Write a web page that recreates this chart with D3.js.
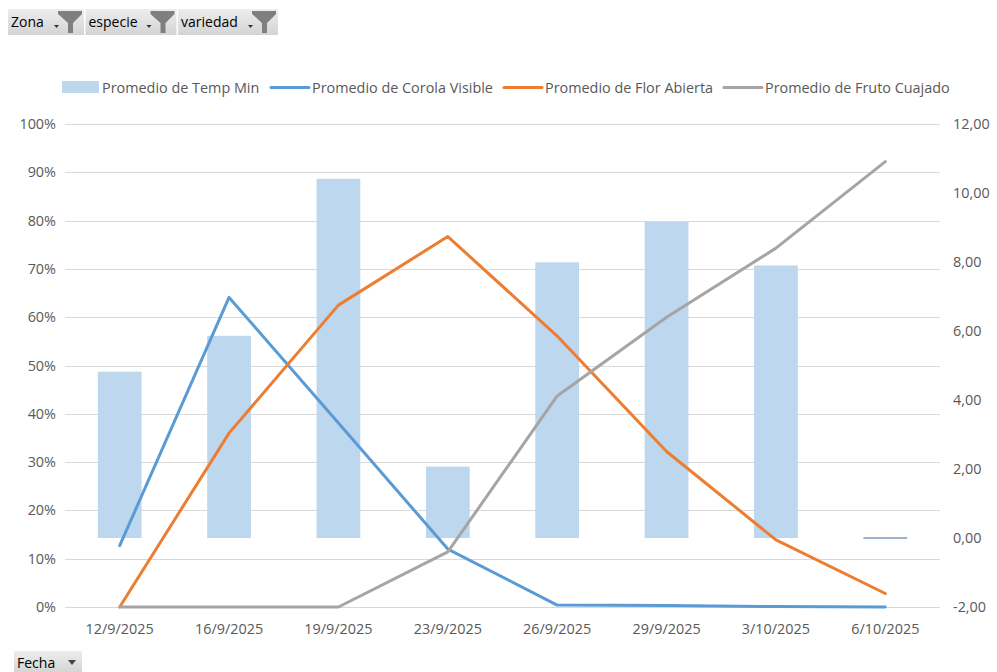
<!DOCTYPE html>
<html>
<head>
<meta charset="utf-8">
<script src="https://cdn.jsdelivr.net/npm/d3@7/dist/d3.min.js"></script>
<style>
  html, body { margin: 0; padding: 0; background: #fff; }
  svg { display: block; }
  text { font-family: "Open Sans", "Liberation Sans", Arial, sans-serif; }
</style>
</head>
<body>
<svg id="chart" width="997" height="672"></svg>
<script>
// Fechas del eje de categorías
const fechas = ["12/9/2025", "16/9/2025", "19/9/2025", "23/9/2025", "26/9/2025", "29/9/2025", "3/10/2025", "6/10/2025"];

// Promedio de Temp Min (eje secundario, °C)
const tempMin = [4.82, 5.86, 10.41, 2.07, 7.99, 9.17, 7.90, 0];

// Promedios de fenología (eje principal, fracción)
const corolaVisible = [0.127, 0.641, 0.381, 0.120, 0.004, 0.003, 0.001, 0.0];
const florAbierta   = [0.0, 0.360, 0.625, 0.767, 0.561, 0.322, 0.139, 0.028];
const frutoCuajado  = [0.0, 0.0, 0.0, 0.114, 0.437, 0.600, 0.743, 0.922];

// Etiquetas de ejes
const ticksIzq = [0, 0.1, 0.2, 0.3, 0.4, 0.5, 0.6, 0.7, 0.8, 0.9, 1.0];
const ticksDer = [-2, 0, 2, 4, 6, 8, 10, 12];

// Filtros del informe dinámico
const filtros = ["Zona", "especie", "variedad"];
const campoEje = "Fecha";

const series = [
  { name: "Promedio de Corola Visible", values: corolaVisible, color: "#5B9BD5" },
  { name: "Promedio de Flor Abierta",   values: florAbierta,   color: "#ED7D31" },
  { name: "Promedio de Fruto Cuajado",  values: frutoCuajado,  color: "#A5A5A5" }
];

const svg = d3.select("#chart");
const plot = { left: 65, right: 940, top: 124, bottom: 607 };
const textColor = "#595959";
const fs = 14.4;

const x = d3.scaleBand().domain(fechas).range([plot.left, plot.right]).paddingInner(0).paddingOuter(0);
const yL = d3.scaleLinear().domain([0, 1]).range([plot.bottom, plot.top]);
const yR = d3.scaleLinear().domain([-2, 12]).range([plot.bottom, plot.top]);
const cx = d => x(d) + x.bandwidth() / 2;
const barW = x.bandwidth() / 2.5;

// Líneas de cuadrícula del eje principal
svg.append("g").selectAll("line")
  .data(ticksIzq)
  .join("line")
  .attr("x1", plot.left).attr("x2", plot.right)
  .attr("y1", d => Math.round(yL(d)) + 0.5).attr("y2", d => Math.round(yL(d)) + 0.5)
  .attr("stroke", "#D9D9D9").attr("stroke-width", 1);

// Columnas de temperatura mínima
const barData = fechas.map((f, i) => ({ f, v: tempMin[i] }));
svg.append("g").selectAll("rect")
  .data(barData.filter(d => Math.abs(d.v) > 0.05))
  .join("rect")
  .attr("x", d => cx(d.f) - barW / 2)
  .attr("width", barW)
  .attr("y", d => Math.min(yR(d.v), yR(0)))
  .attr("height", d => Math.abs(yR(d.v) - yR(0)))
  .attr("fill", "#BDD7EE");
// Columnas con valor nulo: solo se ve el borde
svg.append("g").selectAll("line")
  .data(barData.filter(d => Math.abs(d.v) <= 0.05))
  .join("line")
  .attr("x1", d => cx(d.f) - barW / 2).attr("x2", d => cx(d.f) + barW / 2)
  .attr("y1", d => yR(d.v)).attr("y2", d => yR(d.v))
  .attr("stroke", "#7F98B6").attr("stroke-width", 1.5);

// Eje horizontal
svg.append("line")
  .attr("x1", plot.left).attr("x2", plot.right)
  .attr("y1", plot.bottom + 0.5).attr("y2", plot.bottom + 0.5)
  .attr("stroke", "#D9D9D9");

// Series de líneas
const line = d3.line().x((d, i) => cx(fechas[i])).y(d => yL(d));
svg.append("g").selectAll("path")
  .data(series)
  .join("path")
  .attr("d", s => line(s.values))
  .attr("fill", "none")
  .attr("stroke", s => s.color)
  .attr("stroke-width", 3)
  .attr("stroke-linejoin", "round")
  .attr("stroke-linecap", "round");

// Etiquetas eje izquierdo
const fmtPct = d3.format(".0%");
svg.append("g").selectAll("text")
  .data(ticksIzq)
  .join("text")
  .attr("x", 56).attr("y", d => yL(d))
  .attr("dy", "0.35em")
  .attr("text-anchor", "end")
  .attr("font-size", fs)
  .attr("fill", textColor)
  .text(d => fmtPct(d));

// Etiquetas eje derecho (formato es-ES)
const fmtNum = d => d3.format(".2f")(d).replace(".", ",").replace("−", "-");
svg.append("g").selectAll("text")
  .data(ticksDer)
  .join("text")
  .attr("x", 953).attr("y", d => yR(d))
  .attr("dy", "0.35em")
  .attr("text-anchor", "start")
  .attr("font-size", fs)
  .attr("fill", textColor)
  .text(d => fmtNum(d));

// Etiquetas de categoría
svg.append("g").selectAll("text")
  .data(fechas)
  .join("text")
  .attr("x", d => cx(d)).attr("y", 634)
  .attr("text-anchor", "middle")
  .attr("font-size", fs)
  .attr("fill", textColor)
  .text(d => d);

// Leyenda
const legend = [
  { name: "Promedio de Temp Min", type: "bar", color: "#BDD7EE", x: 62 },
  { name: series[0].name, type: "line", color: series[0].color, x: 270 },
  { name: series[1].name, type: "line", color: series[1].color, x: 503 },
  { name: series[2].name, type: "line", color: series[2].color, x: 723 }
];
const lg = svg.append("g").selectAll("g").data(legend).join("g");
lg.filter(d => d.type === "bar").append("rect")
  .attr("x", d => d.x).attr("y", 81).attr("width", 37).attr("height", 12)
  .attr("fill", d => d.color);
lg.filter(d => d.type === "line").append("line")
  .attr("x1", d => d.x + 1).attr("x2", d => d.x + 39)
  .attr("y1", 87.5).attr("y2", 87.5)
  .attr("stroke", d => d.color).attr("stroke-width", 3).attr("stroke-linecap", "round");
lg.append("text")
  .attr("x", d => d.x + (d.type === "bar" ? 40 : 42)).attr("y", 87.5)
  .attr("dy", "0.35em")
  .attr("font-size", fs)
  .attr("fill", textColor)
  .text(d => d.name);

// Botones de campo del gráfico dinámico
const defs = svg.append("defs");
const grad = defs.append("linearGradient").attr("id", "btnGrad").attr("x1", 0).attr("x2", 0).attr("y1", 0).attr("y2", 1);
grad.append("stop").attr("offset", "0%").attr("stop-color", "#EDEDED");
grad.append("stop").attr("offset", "100%").attr("stop-color", "#D4D4D4");

const btnW = [76, 91, 100];
let bx = 8;
const btns = filtros.map((f, i) => { const b = { f, x: bx, w: btnW[i] }; bx += btnW[i] + 1.5; return b; });
const bg = svg.append("g").selectAll("g").data(btns).join("g")
  .attr("transform", d => `translate(${d.x},9)`);
bg.append("rect").attr("width", d => d.w).attr("height", 26).attr("fill", "url(#btnGrad)");
bg.append("text").attr("x", 3).attr("y", 13).attr("dy", "0.35em")
  .attr("font-size", 14).attr("fill", "#000").text(d => d.f);
// icono de filtro
bg.append("path")
  .attr("d", d => {
    const r = d.w - 2, l = r - 24;
    return `M${l},2 L${r},2 L${r},5 L${l + 15},14 L${l + 15},24 L${l + 10},24 L${l + 10},14 L${l},5 Z`;
  })
  .attr("fill", "#7F7F7F");
bg.append("path")
  .attr("d", d => { const ax = d.w - 30; return `M${ax},16 L${ax + 5},16 L${ax + 2.5},19 Z`; })
  .attr("fill", "#333");

// Botón del campo de eje
const fb = svg.append("g").attr("transform", "translate(14,651)");
fb.append("rect").attr("width", 68).attr("height", 22).attr("fill", "url(#btnGrad)");
fb.append("text").attr("x", 3).attr("y", 12).attr("dy", "0.35em")
  .attr("font-size", 14).attr("fill", "#000").text(campoEje);
fb.append("path").attr("d", "M54,9 L62,9 L58,14 Z").attr("fill", "#444");
</script>
</body>
</html>
